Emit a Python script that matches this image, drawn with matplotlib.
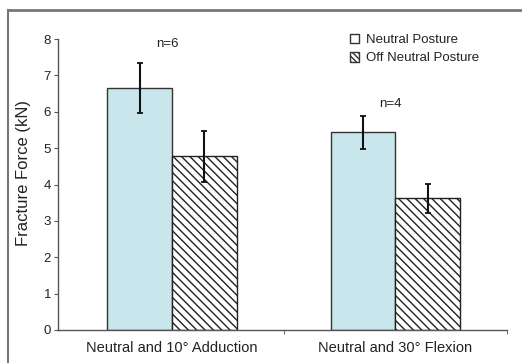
import numpy as np
import matplotlib
matplotlib.use('Agg')
import matplotlib.pyplot as plt
from matplotlib.lines import Line2D
from matplotlib.patches import Patch

plt.rcParams['font.family'] = ['Liberation Sans', 'DejaVu Sans']
plt.rcParams['hatch.linewidth'] = 1.0

# Data
categories = ['Neutral and 10\u00b0 Adduction', 'Neutral and 30\u00b0 Flexion']
series_names = ['Neutral Posture', 'Off Neutral Posture']
neutral_mean = [6.65, 5.43]
neutral_err = [0.68, 0.46]
off_mean = [4.77, 3.62]
off_err = [0.69, 0.40]
n_labels = ['n=6', 'n=4']
n_label_y = [7.85, 6.2]
y_ticks = [0, 1, 2, 3, 4, 5, 6, 7, 8]

W, H = 522, 363
fig = plt.figure(figsize=(W / 100, H / 100), dpi=100)
fig.patch.set_facecolor('white')

ax = fig.add_axes([58 / W, 1 - 330 / H, (507 - 58) / W, (330 - 39) / H])

x = np.arange(len(categories))
w = 0.29
txt = '#222222'

ax.bar(x - w / 2, neutral_mean, w, color='#c9e6ec', edgecolor='#333333',
       linewidth=1.0, zorder=2)
ax.bar(x + w / 2, off_mean, w, color='white', edgecolor='#222222',
       hatch='\\\\\\\\', linewidth=1.0, zorder=2)
ax.errorbar(x - w / 2, neutral_mean, yerr=neutral_err, fmt='none',
            ecolor='#111111', elinewidth=1.5, capsize=2.5, capthick=1.3,
            zorder=3)
ax.errorbar(x + w / 2, off_mean, yerr=off_err, fmt='none',
            ecolor='#111111', elinewidth=1.5, capsize=2.5, capthick=1.3,
            zorder=3)

for i, lab in enumerate(n_labels):
    ax.text(x[i] - 0.02, n_label_y[i], lab, ha='center', va='center',
            fontsize=9.5, color=txt)

ax.set_xlim(-0.51, 1.50)
ax.set_ylim(0, 8)
ax.set_yticks(y_ticks)
ax.set_yticklabels([str(t) for t in y_ticks], fontsize=9.5, color=txt)
ax.set_xticks(x)
ax.set_xticklabels(categories, fontsize=10.5, color=txt)
ax.tick_params(axis='x', length=0, pad=8)
ax.set_xticks([0.5, 1.5], minor=True)
ax.tick_params(axis='x', which='minor', length=3, direction='out',
               color='#555555')
ax.tick_params(axis='y', length=3, direction='out', color='#555555',
               pad=2)
for s in ['top', 'right']:
    ax.spines[s].set_visible(False)
for s in ['left', 'bottom']:
    ax.spines[s].set_color('#555555')
    ax.spines[s].set_linewidth(1.0)

ax.set_ylabel('Fracture Force (kN)', fontsize=12, color=txt)
ax.yaxis.set_label_coords(-27 / 449, 0.54)

handles = [Patch(facecolor='white', edgecolor='#333333', linewidth=1.0),
           Patch(facecolor='white', edgecolor='#333333', hatch='\\\\\\\\\\\\',
                 linewidth=1.0)]
leg = fig.legend(handles, series_names, loc='upper left',
                 bbox_to_anchor=(343 / W, 1 - 27 / H), frameon=False,
                 fontsize=9.5, handlelength=0.75, handleheight=0.75,
                 handletextpad=0.5, labelspacing=0.45, borderpad=0)
for t in leg.get_texts():
    t.set_color(txt)

# grey frame lines around the figure (top and left)
fig.add_artist(Line2D([8 / W, 1], [1 - 10 / H, 1 - 10 / H],
                      transform=fig.transFigure, color='#777777', lw=2))
fig.add_artist(Line2D([8 / W, 8 / W], [0, 1 - 10 / H],
                      transform=fig.transFigure, color='#777777', lw=1.5))

fig.savefig('out.png', dpi=100, facecolor='white')
